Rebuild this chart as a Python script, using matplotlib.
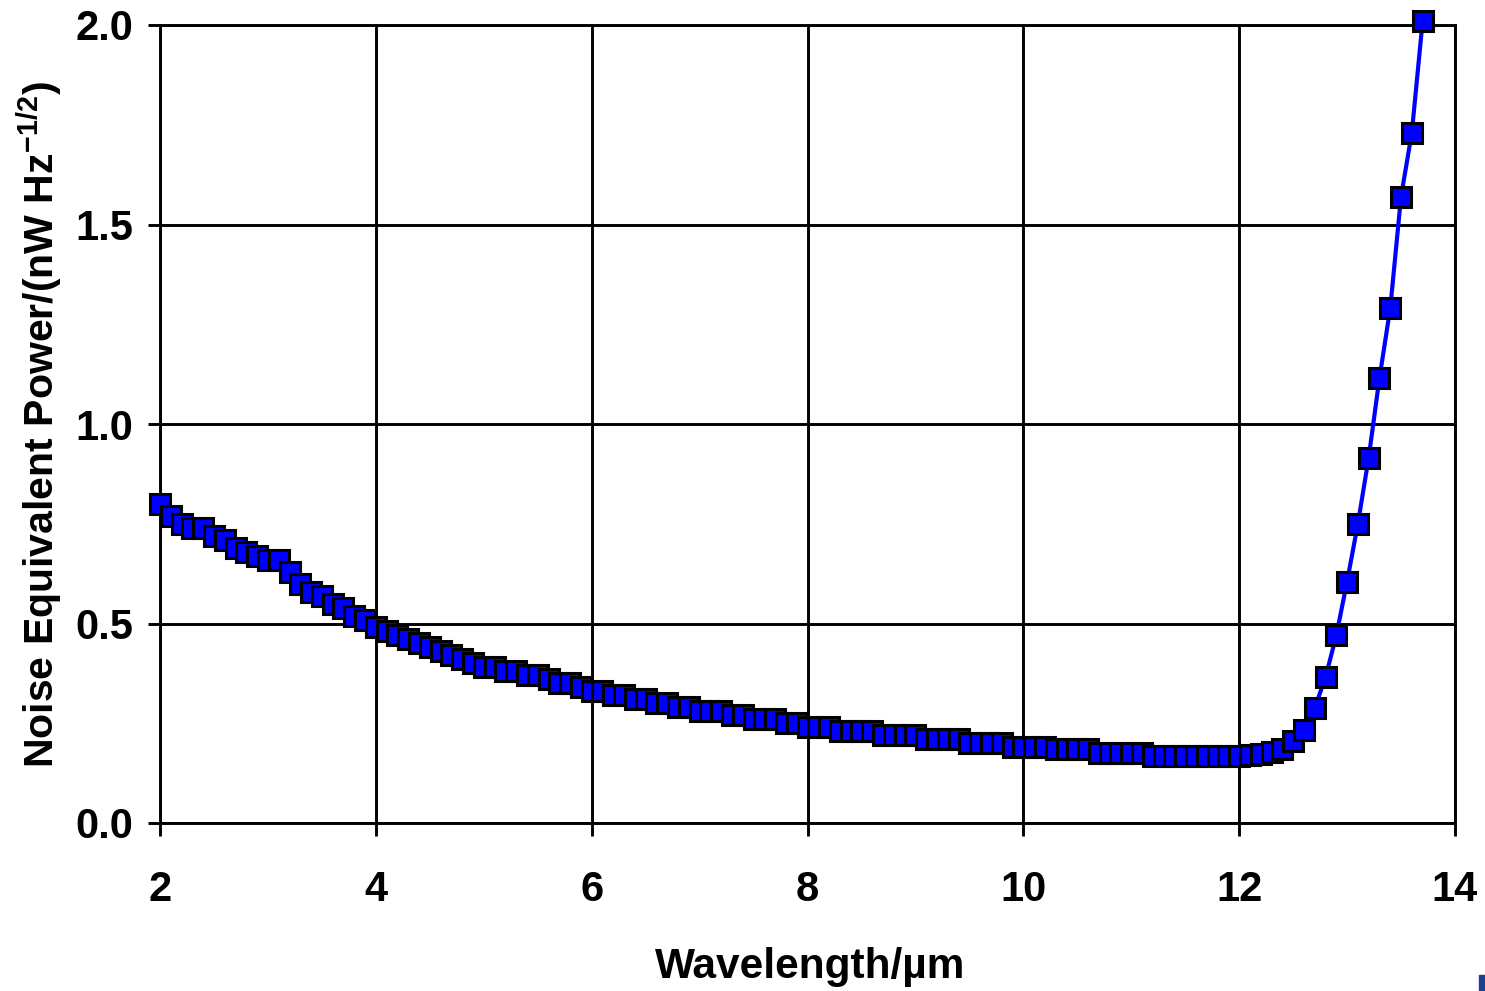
import matplotlib
matplotlib.use("Agg")
import matplotlib.pyplot as plt
from matplotlib.patches import Rectangle

wavelength = [
    2.0, 2.1, 2.2, 2.3, 2.4, 2.5, 2.6, 2.7, 2.8, 2.9,
    3.0, 3.1, 3.2, 3.3, 3.4, 3.5, 3.6, 3.7, 3.8, 3.9,
    4.0, 4.1, 4.2, 4.3, 4.4, 4.5, 4.6, 4.7, 4.8, 4.9,
    5.0, 5.1, 5.2, 5.3, 5.4, 5.5, 5.6, 5.7, 5.8, 5.9,
    6.0, 6.1, 6.2, 6.3, 6.4, 6.5, 6.6, 6.7, 6.8, 6.9,
    7.0, 7.1, 7.2, 7.3, 7.4, 7.5, 7.6, 7.7, 7.8, 7.9,
    8.0, 8.1, 8.2, 8.3, 8.4, 8.5, 8.6, 8.7, 8.8, 8.9,
    9.0, 9.1, 9.2, 9.3, 9.4, 9.5, 9.6, 9.7, 9.8, 9.9,
    10.0, 10.1, 10.2, 10.3, 10.4, 10.5, 10.6, 10.7, 10.8, 10.9,
    11.0, 11.1, 11.2, 11.3, 11.4, 11.5, 11.6, 11.7, 11.8, 11.9,
    12.0, 12.1, 12.2, 12.3, 12.4, 12.5, 12.6, 12.7, 12.8, 12.9,
    13.0, 13.1, 13.2, 13.3, 13.4, 13.5, 13.6, 13.7,
]
nep = [
    0.80, 0.77, 0.75, 0.74, 0.74, 0.72, 0.71, 0.69, 0.68, 0.67,
    0.66, 0.66, 0.63, 0.60, 0.58, 0.57, 0.55, 0.54, 0.52, 0.51,
    0.49, 0.48, 0.47, 0.46, 0.45, 0.44, 0.43, 0.42, 0.41, 0.40,
    0.39, 0.39, 0.38, 0.38, 0.37, 0.37, 0.36, 0.35, 0.35, 0.34,
    0.33, 0.33, 0.32, 0.32, 0.31, 0.31, 0.30, 0.30, 0.29, 0.29,
    0.28, 0.28, 0.28, 0.27, 0.27, 0.26, 0.26, 0.26, 0.25, 0.25,
    0.24, 0.24, 0.24, 0.23, 0.23, 0.23, 0.23, 0.22, 0.22, 0.22,
    0.22, 0.21, 0.21, 0.21, 0.21, 0.20, 0.20, 0.20, 0.20, 0.19,
    0.19, 0.19, 0.19, 0.185, 0.185, 0.185, 0.185, 0.175, 0.175, 0.175,
    0.175, 0.175, 0.168, 0.168, 0.168, 0.168, 0.168, 0.168, 0.168, 0.168,
    0.168, 0.170, 0.173, 0.178, 0.185, 0.205, 0.233, 0.288, 0.365, 0.47,
    0.605, 0.75, 0.915, 1.115, 1.29, 1.57, 1.73, 2.01,
]
x_ticks = [2, 4, 6, 8, 10, 12, 14]
y_ticks = [0.0, 0.5, 1.0, 1.5, 2.0]
x_label = "Wavelength/µm"
y_label = "Noise Equivalent Power/(nW Hz$^{-1/2}$)"

plt.rcParams["font.family"] = ["Liberation Sans", "DejaVu Sans"]
plt.rcParams["mathtext.fontset"] = "custom"
plt.rcParams["mathtext.rm"] = "Liberation Sans:bold"
plt.rcParams["mathtext.default"] = "regular"

fig = plt.figure(figsize=(14.85, 9.91), dpi=100)
ax = fig.add_axes([160 / 1485, 1 - 823 / 991, (1455 - 160) / 1485, (823 - 25) / 991])

ax.plot(wavelength, nep, color="#0000FF", lw=3, marker="s", ms=14.5,
        mfc="#0000FF", mec="black", mew=2.2, zorder=3, clip_on=False)

ax.set_xlim(2, 14)
ax.set_ylim(0, 2.0)
ax.set_xticks(x_ticks)
ax.set_yticks(y_ticks)
ax.set_xticklabels([str(t) for t in x_ticks])
ax.set_yticklabels([f"{t:.1f}" for t in y_ticks])
ax.grid(True, color="black", lw=2.1)
ax.set_axisbelow(True)
for s in ax.spines.values():
    s.set_color("black")
    s.set_linewidth(2.1)
ax.tick_params(axis="both", direction="out", length=9, width=2.1, colors="black")
ax.tick_params(axis="x", pad=25, labelsize=30)
ax.tick_params(axis="y", pad=10, labelsize=30)
for lab in ax.get_xticklabels() + ax.get_yticklabels():
    lab.set_fontweight("bold")

fig.text(810 / 1485, 1 - 967 / 991, x_label, ha="center", va="center",
         fontsize=30.5, fontweight="bold")
fig.text(40 / 1485, 1 - 425 / 991, y_label, ha="center", va="center",
         rotation=90, fontsize=29.5, fontweight="bold")

fig.patches.append(Rectangle((1479 / 1485, 0), 6 / 1485, 16 / 991,
                             transform=fig.transFigure, color="#1F3F8F"))

fig.savefig("out.png", dpi=100, facecolor="white")
